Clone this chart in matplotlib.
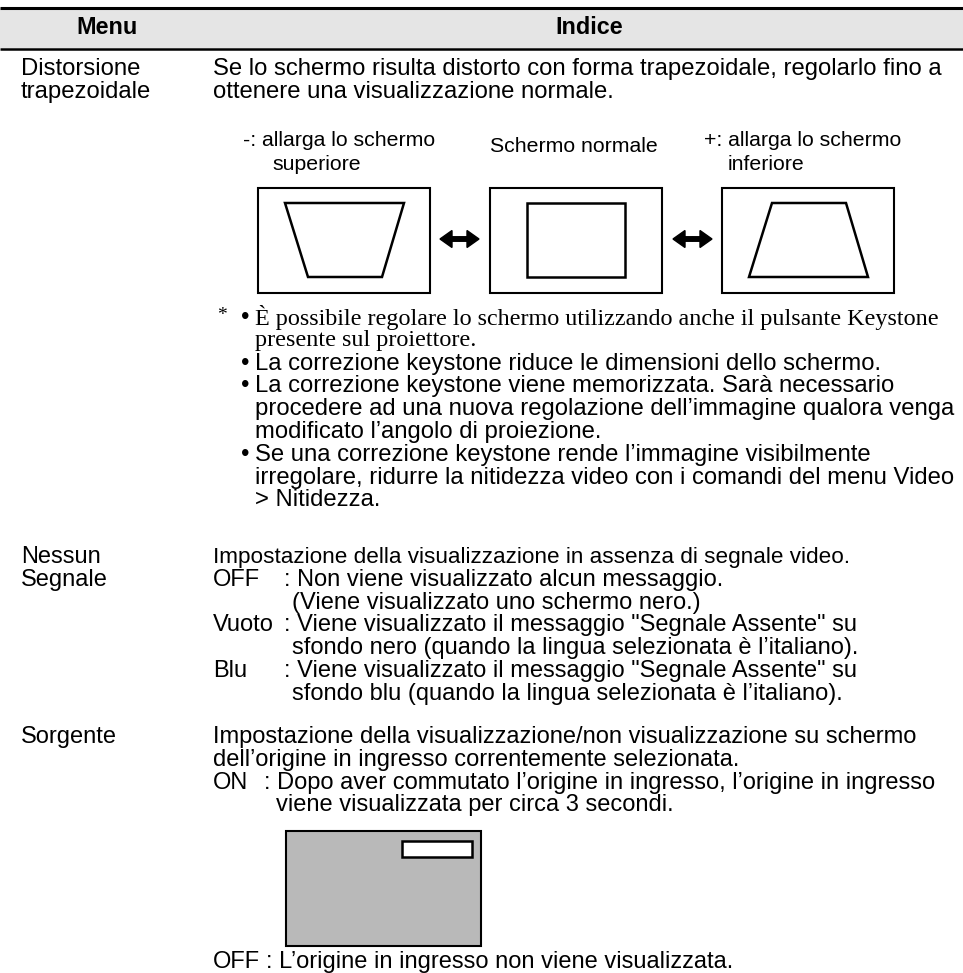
import matplotlib
matplotlib.use("Agg")
import matplotlib.pyplot as plt
from matplotlib.patches import Rectangle, Polygon, FancyArrow

W, H = 963, 973

# ---- text content ----
HEADERS = ["Menu", "Indice"]

ROW1_MENU = ["Distorsione", "trapezoidale"]
ROW1_INTRO = ["Se lo schermo risulta distorto con forma trapezoidale, regolarlo fino a",
              "ottenere una visualizzazione normale."]
LABEL_MINUS = ["-: allarga lo schermo", "superiore"]
LABEL_NORMAL = "Schermo normale"
LABEL_PLUS = ["+: allarga lo schermo", "inferiore"]
NOTE_SERIF = ["È possibile regolare lo schermo utilizzando anche il pulsante Keystone",
              "presente sul proiettore."]
NOTE_BULLETS = [
    ["La correzione keystone riduce le dimensioni dello schermo."],
    ["La correzione keystone viene memorizzata. Sarà necessario",
     "procedere ad una nuova regolazione dell\u2019immagine qualora venga",
     "modificato l\u2019angolo di proiezione."],
    ["Se una correzione keystone rende l\u2019immagine visibilmente",
     "irregolare, ridurre la nitidezza video con i comandi del menu Video",
     "> Nitidezza."],
]

ROW2_MENU = ["Nessun", "Segnale"]
ROW2_INTRO = "Impostazione della visualizzazione in assenza di segnale video."
ROW2_KEYS = ["OFF", "Vuoto", "Blu"]
ROW2_DESC = [
    [": Non viene visualizzato alcun messaggio.", "(Viene visualizzato uno schermo nero.)"],
    [": Viene visualizzato il messaggio \"Segnale Assente\" su",
     "sfondo nero (quando la lingua selezionata è l\u2019italiano)."],
    [": Viene visualizzato il messaggio \"Segnale Assente\" su",
     "sfondo blu (quando la lingua selezionata è l\u2019italiano)."],
]

ROW3_MENU = "Sorgente"
ROW3_INTRO = ["Impostazione della visualizzazione/non visualizzazione su schermo",
              "dell\u2019origine in ingresso correntemente selezionata."]
ROW3_ON = ["ON", ": Dopo aver commutato l\u2019origine in ingresso, l\u2019origine in ingresso",
           "viene visualizzata per circa 3 secondi."]
ROW3_OFF = ["OFF", ": L\u2019origine in ingresso non viene visualizzata."]

SANS = ["Liberation Sans", "DejaVu Sans"]
SERIF = ["Liberation Serif", "DejaVu Serif"]

BODY = 17.2
LOWER = 17.0
LABEL = 15.3

fig = plt.figure(figsize=(W / 100, H / 100), dpi=100)
ax = fig.add_axes([0, 0, 1, 1])
ax.set_xlim(0, W)
ax.set_ylim(H, 0)
ax.axis("off")


def txt(x, y, s, size=BODY, family=SANS, **kw):
    ax.text(x, y, s, fontsize=size, family=family, va="center", ha=kw.pop("ha", "left"),
            color="black", **kw)


# header
ax.add_patch(Rectangle((0, 8), W, 40, fc="#e5e5e5", ec="none"))
ax.plot([0, W], [7.5, 7.5], color="black", lw=2.2, solid_capstyle="butt")
ax.plot([0, W], [48.5, 48.5], color="black", lw=1.8, solid_capstyle="butt")
txt(107, 28, HEADERS[0], size=16.8, weight="bold", ha="center")
txt(589, 28, HEADERS[1], size=16.8, weight="bold", ha="center")

COL2 = 213
XL = 21
LH = 22.8

# row 1
for i, s in enumerate(ROW1_MENU):
    txt(XL, 69 + i * LH, s)
for i, s in enumerate(ROW1_INTRO):
    txt(COL2, 69 + i * LH, s)

txt(243, 141, LABEL_MINUS[0], size=LABEL)
txt(272, 165, LABEL_MINUS[1], size=LABEL)
txt(490, 146, LABEL_NORMAL, size=LABEL)
txt(704, 141, LABEL_PLUS[0], size=LABEL)
txt(728, 165, LABEL_PLUS[1], size=LABEL)

# diagrams
box_y0, box_y1 = 188, 293
for bx in [258, 490, 722]:
    ax.add_patch(Rectangle((bx, box_y0), 172, box_y1 - box_y0, fill=False, ec="black", lw=1.5))
ax.add_patch(Polygon([(285, 203), (404, 203), (382, 277), (308, 277)], closed=True,
                     fill=False, ec="black", lw=1.8))
ax.add_patch(Rectangle((527, 203), 98, 74, fill=False, ec="black", lw=1.8))
ax.add_patch(Polygon([(772, 203), (846, 203), (868, 277), (749, 277)], closed=True,
                     fill=False, ec="black", lw=1.8))
for ax0, ax1 in [(440, 479), (673, 712)]:
    mid = (ax0 + ax1) / 2
    for a, b in [(mid, ax0), (mid, ax1)]:
        ax.add_patch(FancyArrow(a, 239, b - a, 0, width=4.5, head_width=17, head_length=12,
                                length_includes_head=True, fc="black", ec="black"))

# notes
BX, TX = 241, 255
y = 318
txt(217, y - 3, "*", size=14, family=SERIF)
txt(BX, y, "\u2022")
txt(TX, y, NOTE_SERIF[0], size=17.4, family=SERIF)
y += LH
txt(TX, y, NOTE_SERIF[1], size=17.4, family=SERIF)
for block in NOTE_BULLETS:
    y += LH
    txt(BX, y, "\u2022")
    for j, s in enumerate(block):
        if j:
            y += LH
        txt(TX, y, s)

# row 2
KX, KX2 = 284, 292
y2 = 557
for i, s in enumerate(ROW2_MENU):
    txt(XL, y2 + i * LH, s, size=LOWER)
txt(COL2, y2, ROW2_INTRO, size=16.2)
yy = y2
for k, desc in zip(ROW2_KEYS, ROW2_DESC):
    yy += LH
    txt(COL2, yy, k, size=LOWER)
    for j, s in enumerate(desc):
        if j:
            yy += LH
            txt(KX2, yy, s, size=LOWER)
        else:
            txt(KX, yy, s, size=LOWER)

# row 3
y3 = 737
txt(XL, y3, ROW3_MENU, size=LOWER)
for i, s in enumerate(ROW3_INTRO):
    txt(COL2, y3 + i * LH, s, size=LOWER)
txt(COL2, y3 + 2 * LH, ROW3_ON[0], size=LOWER)
txt(264, y3 + 2 * LH, ROW3_ON[1], size=LOWER)
txt(276, y3 + 3 * LH, ROW3_ON[2], size=LOWER)

ax.add_patch(Rectangle((286, 831), 195, 115, fc="#b9b9b9", ec="black", lw=1.5))
ax.add_patch(Rectangle((402, 841), 70, 16, fc="white", ec="black", lw=1.8))
txt(COL2, 962, ROW3_OFF[0], size=LOWER)
txt(266, 962, ROW3_OFF[1], size=LOWER)

fig.savefig("out.png", dpi=100)
